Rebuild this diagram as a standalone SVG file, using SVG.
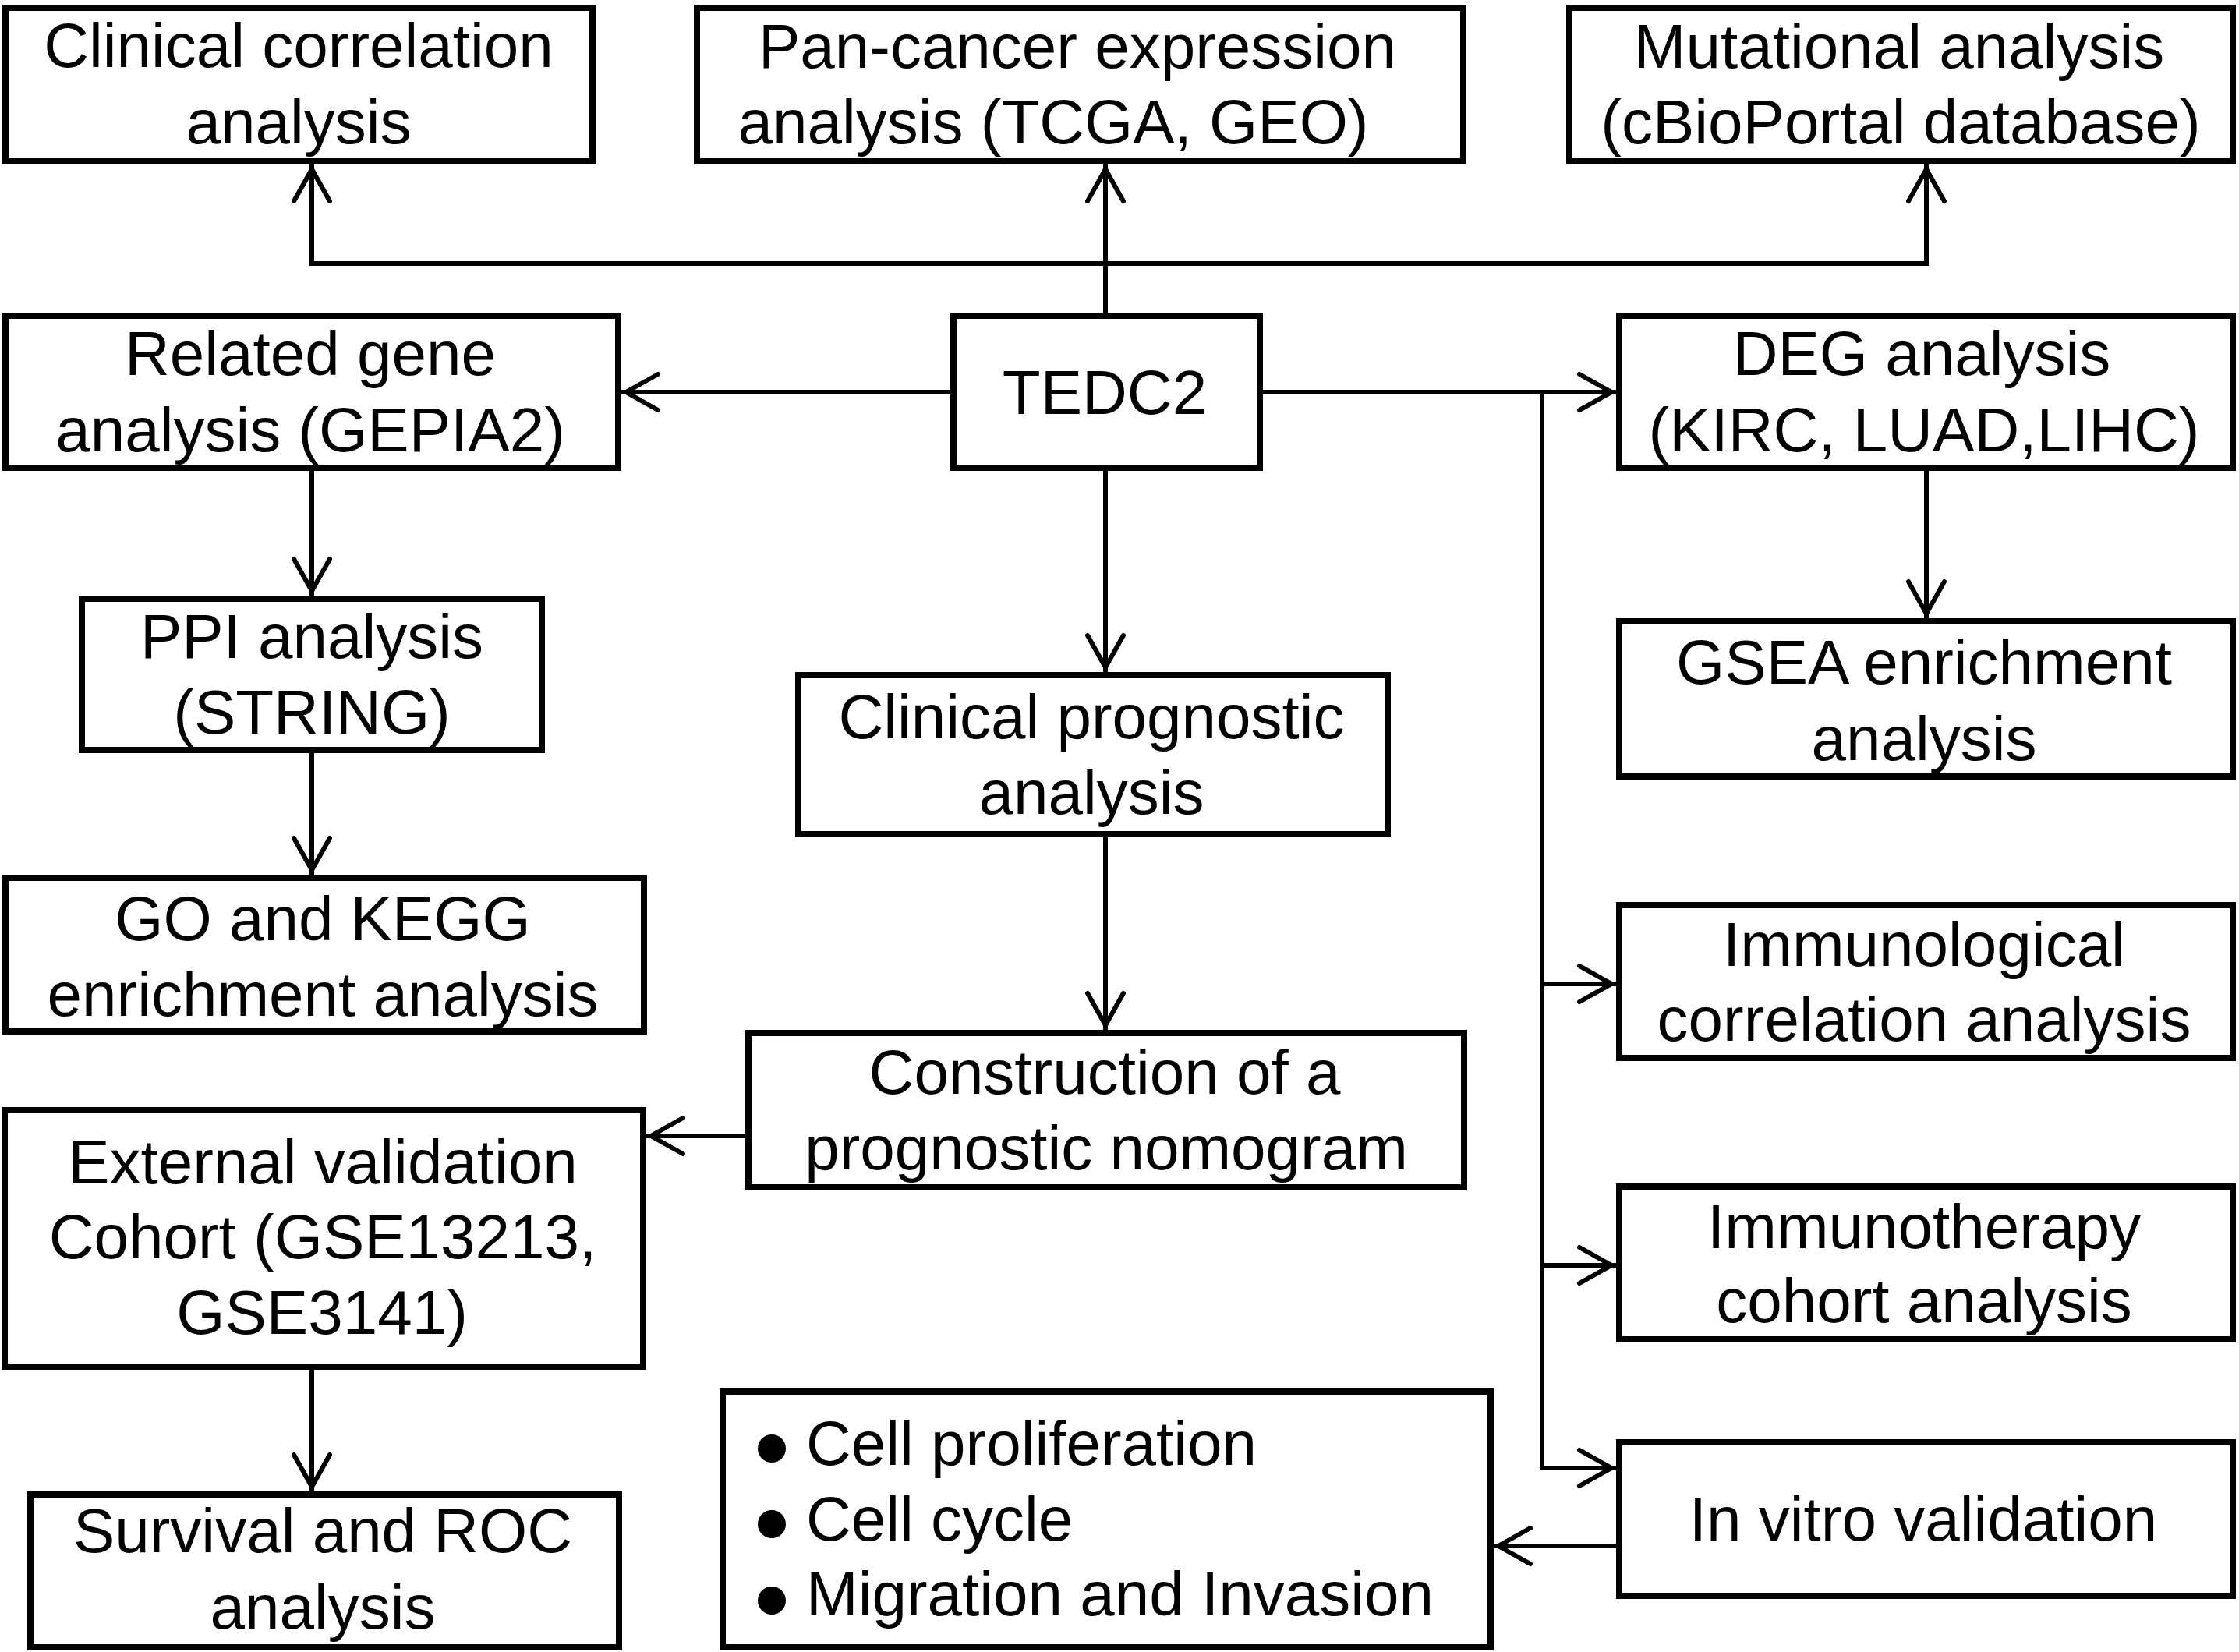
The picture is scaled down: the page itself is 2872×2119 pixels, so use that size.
<svg xmlns="http://www.w3.org/2000/svg" width="2872" height="2119" viewBox="0 0 2872 2119">
<style>
.box{fill:#fff;stroke:#000;stroke-width:8;stroke-linejoin:miter}
.t{font-family:"Liberation Sans",Arial,sans-serif;font-size:80px;fill:#000;text-anchor:middle}
.tl{font-family:"Liberation Sans",Arial,sans-serif;font-size:80px;fill:#000;text-anchor:start}
.c{fill:none;stroke:#000;stroke-width:6;stroke-linecap:square}
.a{marker-end:url(#ah)}
</style>
<defs>
<marker id="ah" markerUnits="userSpaceOnUse" markerWidth="60" markerHeight="60" viewBox="-50 -30 60 60" refX="0" refY="0" orient="auto" overflow="visible">
<path d="M-46,-23 L-5,0 L-46,23" fill="none" stroke="#000" stroke-width="6" stroke-linejoin="miter" stroke-linecap="round"/>
</marker>
</defs>
<rect width="2872" height="2119" fill="#fff"/>
<g id="connectors">
<path class="c" d="M400,338 H2471"/>
<path class="c a" d="M400,338 V212"/>
<path class="c a" d="M2471,338 V212"/>
<path class="c a" d="M1418,402 V212"/>
<path class="c a" d="M1219,503 H798"/>
<path class="c" d="M1620,503 H1978"/>
<path class="c a" d="M1978,503 H2072"/>
<path class="c a" d="M1978,503 V1883 H2072"/>
<path class="c a" d="M1978,1262 H2072"/>
<path class="c a" d="M1978,1623 H2072"/>
<path class="c a" d="M2471,604 V792"/>
<path class="c a" d="M400,604 V763"/>
<path class="c a" d="M400,965 V1121"/>
<path class="c a" d="M1418,604 V861"/>
<path class="c a" d="M1418,1074 V1320"/>
<path class="c a" d="M956,1457 H830"/>
<path class="c a" d="M400,1757 V1912"/>
<path class="c a" d="M2073,1983 H1917"/>
</g>
<g id="n1"><rect class="box" x="7" y="10" width="753" height="197"/><text class="t" x="383" y="86">Clinical correlation</text><text class="t" x="383" y="184">analysis</text></g>
<g id="n2"><rect class="box" x="894" y="10" width="983" height="197"/><text class="t" x="1382" y="87">Pan-cancer expression</text><text class="t" x="1351" y="184">analysis (TCGA, GEO)</text></g>
<g id="n3"><rect class="box" x="2013" y="10" width="851" height="197"/><text class="t" x="2436" y="87">Mutational analysis</text><text class="t" x="2438" y="184">(cBioPortal database)</text></g>
<g id="n4"><rect class="box" x="7" y="405" width="786" height="195"/><text class="t" x="398" y="481">Related gene</text><text class="t" x="398" y="579">analysis (GEPIA2)</text></g>
<g id="n5"><rect class="box" x="1223" y="405" width="393" height="195"/><text class="t" x="1417" y="531">TEDC2</text></g>
<g id="n6"><rect class="box" x="2077" y="405" width="787" height="195"/><text class="t" x="2465" y="481">DEG analysis</text><text class="t" x="2468" y="579">(KIRC, LUAD,LIHC)</text></g>
<g id="n7"><rect class="box" x="105" y="768" width="590" height="194"/><text class="t" x="400" y="844">PPI analysis</text><text class="t" x="400" y="941">(STRING)</text></g>
<g id="n8"><rect class="box" x="1024" y="866" width="756" height="204"/><text class="t" x="1400" y="947">Clinical prognostic</text><text class="t" x="1400" y="1044">analysis</text></g>
<g id="n9"><rect class="box" x="2077" y="797" width="787" height="199"/><text class="t" x="2468" y="877">GSEA enrichment</text><text class="t" x="2468" y="975">analysis</text></g>
<g id="n10"><rect class="box" x="7" y="1126" width="819" height="197"/><text class="t" x="414" y="1206">GO and KEGG</text><text class="t" x="414" y="1303">enrichment analysis</text></g>
<g id="n11"><rect class="box" x="960" y="1325" width="918" height="198"/><text class="t" x="1417" y="1403">Construction of a</text><text class="t" x="1419" y="1500">prognostic nomogram</text></g>
<g id="n12"><rect class="box" x="6" y="1424" width="819" height="329"/><text class="t" x="414" y="1518">External validation</text><text class="t" x="414" y="1614">Cohort (GSE13213,</text><text class="t" x="413" y="1711">GSE3141)</text></g>
<g id="n13"><rect class="box" x="2077" y="1161" width="787" height="196"/><text class="t" x="2468" y="1239">Immunological</text><text class="t" x="2468" y="1335">correlation analysis</text></g>
<g id="n14"><rect class="box" x="2077" y="1522" width="787" height="196"/><text class="t" x="2468" y="1601">Immunotherapy</text><text class="t" x="2468" y="1696">cohort analysis</text></g>
<g id="n15"><rect class="box" x="39" y="1917" width="755" height="196"/><text class="t" x="414" y="1991">Survival and ROC</text><text class="t" x="414" y="2089">analysis</text></g>
<g id="n16"><rect class="box" x="927" y="1785" width="985" height="328"/>
<circle cx="990" cy="1858" r="18" fill="#000"/><circle cx="990" cy="1955" r="18" fill="#000"/><circle cx="990" cy="2053" r="18" fill="#000"/>
<text class="tl" x="1034" y="1879">Cell proliferation</text><text class="tl" x="1034" y="1976">Cell cycle</text><text class="tl" x="1034" y="2072">Migration and Invasion</text></g>
<g id="n17"><rect class="box" x="2077" y="1850" width="787" height="197"/><text class="t" x="2467" y="1976">In vitro validation</text></g>
</svg>
